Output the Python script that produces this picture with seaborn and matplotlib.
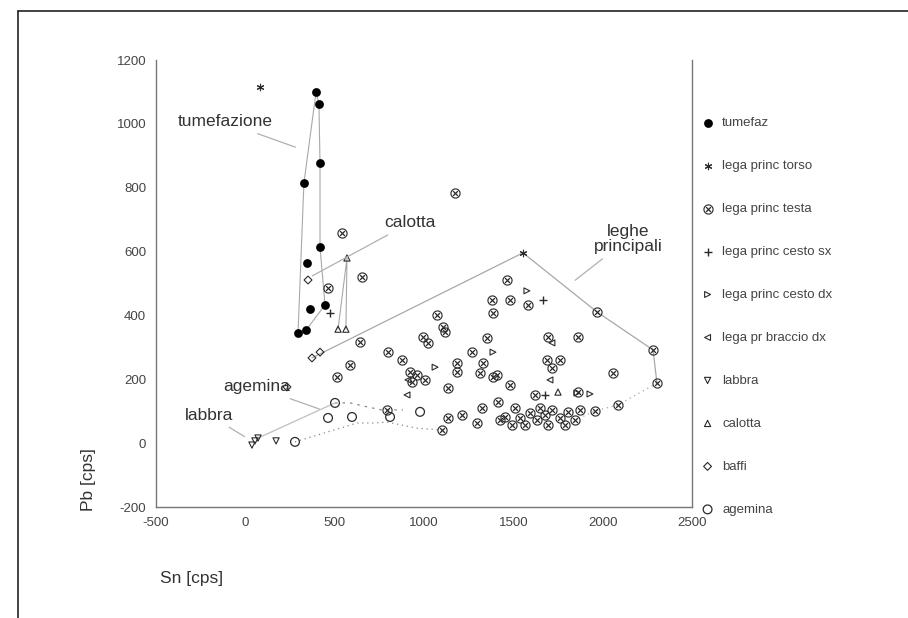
import matplotlib
matplotlib.use("Agg")
import matplotlib.pyplot as plt
import seaborn as sns
import pandas as pd

# values (Sn cps, Pb cps)
tumefaz_x = [396, 412, 418, 328, 418, 345, 362, 446, 295, 340]
tumefaz_y = [1100, 1062, 877, 815, 614, 564, 420, 433, 345, 354]

torso_x = [1554, 82]
torso_y = [596, 1115]

testa_x = [1174, 541, 653, 463, 1465, 1381, 1481, 1582, 1386, 1968, 1073, 1106, 1118,
           994, 1022, 1353, 1694, 1862, 642, 586, 513, 799, 877, 922, 961, 1006, 933,
           1269, 1185, 1185, 1330, 1313, 1409, 1688, 1761, 1716, 2058, 2282, 2304, 2086,
           1957, 1621, 1862, 1481, 1134, 1386, 793, 1213, 1325, 1414, 1134, 1297, 1101,
           1425, 1453, 1509, 1537, 1593, 1632, 1565, 1677, 1716, 1761, 1806, 1845, 1694,
           1493, 1789, 1873, 1649]
testa_y = [783, 658, 520, 486, 511, 448, 448, 433, 408, 411, 401, 364, 348,
           332, 314, 329, 332, 332, 317, 245, 207, 285, 260, 223, 213, 198, 192,
           285, 251, 223, 251, 220, 213, 260, 260, 235, 220, 292, 188, 120,
           101, 151, 160, 182, 173, 207, 104, 88, 110, 129, 79, 63, 41,
           72, 82, 110, 79, 94, 72, 57, 88, 104, 79, 98, 72, 57,
           57, 57, 104, 110]

cesto_sx_x = [474, 1666, 1677]
cesto_sx_y = [408, 448, 151]

cesto_dx_x = [1576, 1386, 1062, 1856, 1929]
cesto_dx_y = [477, 285, 238, 157, 154]

braccio_x = [1716, 1705, 905, 910]
braccio_y = [314, 198, 151, 198]

labbra_x = [172, 71, 37, 54]
labbra_y = [7, 16, -6, 7]

calotta_x = [519, 563, 569, 1750]
calotta_y = [357, 357, 580, 160]

baffi_x = [351, 373, 418, 233]
baffi_y = [511, 267, 285, 176]

agemina_x = [502, 463, 278, 597, 978, 810]
agemina_y = [126, 79, 4, 82, 98, 82]

# hand-drawn group outlines
hull_tum_x = [295, 328, 396, 412, 418, 418, 446, 340, 295]
hull_tum_y = [345, 815, 1100, 1062, 877, 614, 433, 354, 345]
hull_cal_x = [519, 569, 563]
hull_cal_y = [357, 580, 357]
hull_leghe_x = [373, 1554, 1968, 2282, 2304]
hull_leghe_y = [267, 596, 411, 292, 188]
hull_leghe_low_x = [2304, 2086, 1957, 1845]
hull_leghe_low_y = [188, 120, 101, 72]
hull_age_x = [278, 625, 714, 793, 961, 1101]
hull_age_y = [4, 63, 63, 66, 47, 41]
hull_age_top_x = [502, 586, 687, 765, 882]
hull_age_top_y = [126, 126, 113, 104, 104]
link_x = [71, 502]
link_y = [16, 126]

x_ticks = [-500, 0, 500, 1000, 1500, 2000, 2500]
y_ticks = [-200, 0, 200, 400, 600, 800, 1000, 1200]

sns.set_theme(style="white")
plt.rcParams["font.family"] = ["Liberation Sans", "DejaVu Sans"]
plt.rcParams["axes.unicode_minus"] = False

fig = plt.figure(figsize=(9.08, 6.18), dpi=100)
ax = fig.add_axes([0.1718, 0.1796, 0.5903, 0.7233])

ink = "#2a2a2a"
line_c = "#a8a8a8"

# outlines first so markers sit on top
ax.plot(hull_tum_x, hull_tum_y, color=line_c, lw=0.8, zorder=1)
ax.plot(hull_cal_x, hull_cal_y, color=line_c, lw=0.8, zorder=1)
ax.plot(hull_leghe_x, hull_leghe_y, color=line_c, lw=0.9, zorder=1)
ax.plot(hull_leghe_low_x, hull_leghe_low_y, color=line_c, lw=0.9, ls=(0, (1, 3)), zorder=1)
ax.plot(hull_age_x, hull_age_y, color="#888888", lw=0.9, ls=(0, (1, 3)), zorder=1)
ax.plot(hull_age_top_x, hull_age_top_y, color="#888888", lw=0.9, ls=(0, (2, 4)), zorder=1)
ax.plot(link_x, link_y, color="#c4c4c4", lw=1.0, zorder=1)

groups = [
    ("tumefaz", tumefaz_x, tumefaz_y, dict(marker="o", s=40, color="black", linewidth=0)),
    ("lega princ torso", torso_x, torso_y, dict(marker=(6, 2, 0), s=22, color=ink, linewidth=0.8)),
    ("lega princ testa", testa_x, testa_y, dict(marker="$\\otimes$", s=55, color=ink, linewidth=0)),
    ("lega princ cesto sx", cesto_sx_x, cesto_sx_y, dict(marker="+", s=30, color=ink, linewidth=1.0)),
    ("lega princ cesto dx", cesto_dx_x, cesto_dx_y, dict(marker=">", s=18, facecolors="none", edgecolors=ink, linewidth=0.8)),
    ("lega pr braccio dx", braccio_x, braccio_y, dict(marker="<", s=18, facecolors="none", edgecolors=ink, linewidth=0.8)),
    ("labbra", labbra_x, labbra_y, dict(marker="v", s=20, facecolors="none", edgecolors=ink, linewidth=0.8)),
    ("calotta", calotta_x, calotta_y, dict(marker="^", s=20, facecolors="none", edgecolors=ink, linewidth=0.8)),
    ("baffi", baffi_x, baffi_y, dict(marker="D", s=16, facecolors="none", edgecolors=ink, linewidth=0.8)),
    ("agemina", agemina_x, agemina_y, dict(marker="o", s=40, facecolors="none", edgecolors=ink, linewidth=0.9)),
]

for name, gx, gy, kw in groups:
    df = pd.DataFrame({"Sn": gx, "Pb": gy})
    sns.scatterplot(data=df, x="Sn", y="Pb", ax=ax, label=name, legend=False, zorder=3, **kw)

ax.set_xlim(-500, 2500)
ax.set_ylim(-200, 1200)
ax.set_xticks(x_ticks)
ax.set_yticks(y_ticks)
ax.tick_params(axis="both", length=0, labelsize=9.5, labelcolor="#444444", pad=7)
ax.set_xlabel("")
ax.set_ylabel("")
for side in ["left", "bottom", "right"]:
    ax.spines[side].set_visible(True)
    ax.spines[side].set_color("#777777")
    ax.spines[side].set_linewidth(1.0)
ax.spines["top"].set_visible(False)

# labels on the groups
txt = dict(fontsize=12.5, color="#333333", ha="center", va="center")
arrow = dict(arrowstyle="-", color="#b0b0b0", lw=0.9)
ax.annotate("tumefazione", xy=(295, 924), xytext=(-114, 1006), arrowprops=arrow, **txt)
ax.annotate("calotta", xy=(362, 520), xytext=(922, 690), arrowprops=arrow, **txt)
ax.annotate("leghe\nprincipali", xy=(1834, 505), xytext=(2142, 640), arrowprops=arrow,
            linespacing=1.0, **txt)
ax.annotate("agemina", xy=(429, 104), xytext=(65, 176), arrowprops=arrow, **txt)
ax.annotate("labbra", xy=(9, 16), xytext=(-203, 88), arrowprops=arrow, **txt)

handles, labels = ax.get_legend_handles_labels()
fig.legend(handles, labels, loc="upper left", bbox_to_anchor=(0.772, 0.811),
           bbox_transform=fig.transFigure, frameon=False, fontsize=9.5,
           labelspacing=2.33, handlelength=1.0, handletextpad=0.6,
           borderpad=0, borderaxespad=0, scatterpoints=1, labelcolor="#444444")

fig.text(192 / 908, 1 - 578 / 618, "Sn [cps]", fontsize=12.5, color="#333333", ha="center", va="center")
fig.text(88 / 908, 1 - 480 / 618, "Pb [cps]", fontsize=12.5, color="#333333", ha="center", va="center",
         rotation=90)

# page border of the original figure
fig.add_artist(plt.Line2D([18 / 908, 1.0], [1 - 11 / 618, 1 - 11 / 618], color="#222222", lw=1.2,
                          transform=fig.transFigure))
fig.add_artist(plt.Line2D([18 / 908, 18 / 908], [0.0, 1 - 11 / 618], color="#222222", lw=1.2,
                          transform=fig.transFigure))

fig.savefig("out.png", dpi=100, facecolor="white")
plt.close(fig)
